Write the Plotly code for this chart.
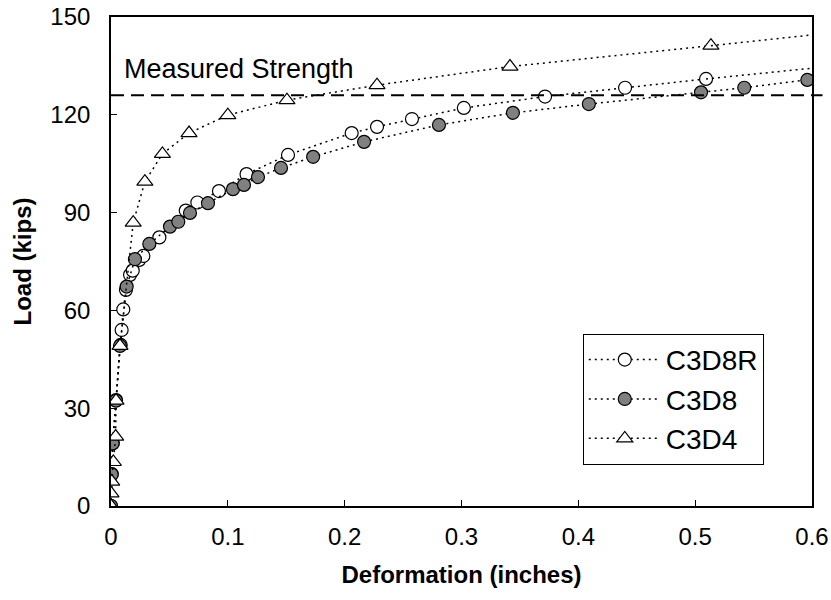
import plotly.graph_objects as go

# ---- data ----
c3d8r_x = [0.0, 0.0006, 0.0015, 0.0043, 0.0083, 0.0091, 0.0105, 0.0128, 0.0163, 0.0186,
           0.0242, 0.0277, 0.0414, 0.0640, 0.0739, 0.0924, 0.1160, 0.1515, 0.2060, 0.2277,
           0.2576, 0.3020, 0.3715, 0.4400, 0.5093]
c3d8r_y = [0.0, 9.8, 19.3, 32.5, 49.4, 54.0, 60.3, 66.3, 70.9, 72.2,
           75.5, 76.7, 82.4, 90.6, 93.1, 96.6, 101.8, 107.7, 114.4, 116.3,
           118.7, 122.1, 125.6, 128.3, 131.0]
c3d8r_edge = [0.6, 134.3]

c3d8_x = [0.0, 0.0006, 0.0014, 0.0043, 0.0077, 0.0134, 0.0205, 0.0328, 0.0505, 0.0576,
          0.0676, 0.0830, 0.1044, 0.1138, 0.1258, 0.1455, 0.1730, 0.2166, 0.2807, 0.3440,
          0.4090, 0.5050, 0.5420, 0.5960]
c3d8_y = [0.0, 9.7, 19.2, 32.3, 49.1, 67.3, 75.7, 80.4, 85.7, 87.2,
          89.9, 92.9, 97.2, 98.5, 100.9, 103.7, 107.1, 111.7, 116.9, 120.6,
          123.3, 126.9, 128.3, 130.7]

c3d4_x = [0.0, 0.0, 0.0006, 0.0020, 0.0040, 0.0043, 0.0077, 0.0190, 0.0290, 0.0440,
          0.0668, 0.1000, 0.1506, 0.2277, 0.3415, 0.5135]
c3d4_y = [0.0, 3.9, 7.5, 13.5, 21.3, 32.3, 49.1, 86.9, 99.5, 108.0,
          114.4, 119.9, 124.5, 129.1, 134.8, 141.2]
c3d4_edge = [0.6, 144.5]

measured_strength = 126.0
x_ticks = [0, 0.1, 0.2, 0.3, 0.4, 0.5, 0.6]
y_ticks = [0, 30, 60, 90, 120, 150]

FONT = "Liberation Sans, Arial, sans-serif"
DOT = "2px,4px"

fig = go.Figure()

def add_series(name, xs, ys, symbol, fill, size, group, edge=None):
    fig.add_trace(go.Scatter(
        x=xs, y=ys, mode="lines+markers", name=name, legendgroup=group,
        line=dict(color="black", width=1.5, dash=DOT),
        marker=dict(symbol=symbol, size=size, color=fill,
                    line=dict(color="black", width=1.2)),
    ))
    if edge is not None:
        fig.add_trace(go.Scatter(
            x=[xs[-1], edge[0]], y=[ys[-1], edge[1]], mode="lines",
            showlegend=False, legendgroup=group, hoverinfo="skip",
            line=dict(color="black", width=1.5, dash=DOT),
        ))

add_series("C3D8R", c3d8r_x, c3d8r_y, "circle", "white", 13, "a", c3d8r_edge)
add_series("C3D8", c3d8_x, c3d8_y, "circle", "#808080", 13, "b")
add_series("C3D4", c3d4_x, c3d4_y, "triangle-up", "white", 14, "c", c3d4_edge)

fig.add_shape(type="line", xref="paper", yref="y", x0=0, x1=1.015,
              y0=measured_strength, y1=measured_strength,
              line=dict(color="black", width=2, dash="13px,7px"))

fig.add_annotation(x=0.016, y=0.893, xref="paper", yref="paper",
                   xanchor="left", yanchor="middle", showarrow=False,
                   text="Measured Strength",
                   font=dict(family=FONT, size=27, color="black"))

axis_common = dict(showline=True, linecolor="black", linewidth=1.7, mirror=True,
                   ticks="inside", ticklen=6, tickwidth=1.2, tickcolor="black",
                   showgrid=False, zeroline=False,
                   tickfont=dict(family=FONT, size=24, color="black"))

fig.update_xaxes(range=[0, 0.6], tickvals=x_ticks,
                 ticktext=[str(v) for v in x_ticks],
                 ticklabelstandoff=8,
                 title=dict(text="<b>Deformation (inches)</b>",
                            font=dict(family=FONT, size=24, color="black"),
                            standoff=18),
                 **axis_common)
fig.update_yaxes(range=[0, 150], tickvals=y_ticks,
                 ticktext=[str(v) for v in y_ticks],
                 ticklabelstandoff=14,
                 title=dict(text="<b>Load (kips)</b>",
                            font=dict(family=FONT, size=24, color="black"),
                            standoff=12),
                 **axis_common)

fig.update_layout(
    width=831, height=600,
    margin=dict(l=111, r=19, t=17, b=94, autoexpand=False),
    plot_bgcolor="white", paper_bgcolor="white",
    showlegend=True,
    legend=dict(x=0.673, y=0.352, xanchor="left", yanchor="top",
                bordercolor="black", borderwidth=1, bgcolor="white",
                font=dict(family=FONT, size=28, color="black"),
                itemwidth=72, tracegroupgap=0, traceorder="normal"),
    font=dict(family=FONT, color="black"),
)

fig.write_html("out.html")
